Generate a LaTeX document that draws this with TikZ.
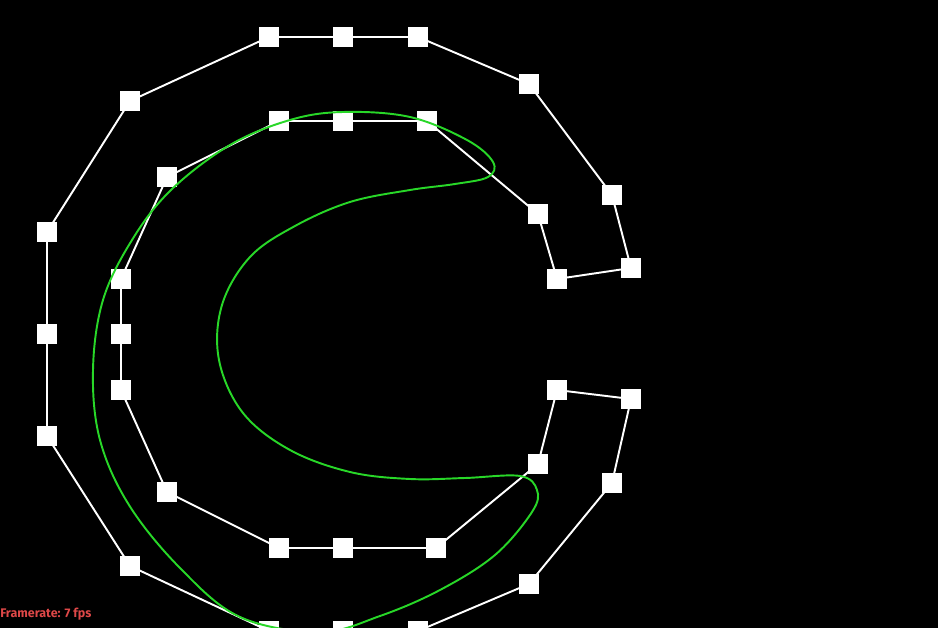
\documentclass[tikz,border=0pt]{standalone}
\usepackage{fontspec}
\newfontfamily\fpsfont{Fira Sans}
\definecolor{curvegreen}{RGB}{40,215,40}
\definecolor{fpsred}{RGB}{222,72,72}
\begin{document}
\begin{tikzpicture}[x=0.02cm,y=-0.02cm,
  ctrl/.style={rectangle,fill=white,draw=none,minimum size=0.4cm,inner sep=0pt},
  poly/.style={white,line width=1.1pt},
  spline/.style={curvegreen,line width=1.1pt}]
\fill[black] (0,0) rectangle (938,628);
\useasboundingbox (0,0) rectangle (938,628);
\begin{scope}
\clip (0,0) rectangle (938,628);
% control points
\coordinate (o3) at (269,37);
\coordinate (o4) at (130,101);
\coordinate (o5) at (47,232);
\coordinate (o6) at (47,334);
\coordinate (o7) at (47,436);
\coordinate (o8) at (130,566);
\coordinate (o9) at (269,631);
\coordinate (o10) at (343,631);
\coordinate (o11) at (418,631);
\coordinate (o12) at (529,584);
\coordinate (o13) at (612,483);
\coordinate (o14) at (631,399);
\coordinate (i1) at (557,390);
\coordinate (i2) at (538,464);
\coordinate (i3) at (436,548);
\coordinate (i4) at (343,548);
\coordinate (i5) at (279,548);
\coordinate (i6) at (167,492);
\coordinate (i7) at (121,390);
\coordinate (i8) at (121,334);
\coordinate (i9) at (121,279);
\coordinate (i10) at (167,177);
\coordinate (i11) at (279,121);
\coordinate (i12) at (343,121);
\coordinate (i13) at (427,121);
\coordinate (i14) at (538,214);
\coordinate (i15) at (557,279);
\coordinate (o15) at (631,268);
\coordinate (o16) at (612,195);
\coordinate (o17) at (529,84);
\coordinate (o18) at (418,37);
\coordinate (o19) at (343,37);
\draw[poly] (o3) -- (o4) -- (o5) -- (o6) -- (o7) -- (o8) -- (o9) -- (o10) -- (o11) -- (o12) -- (o13) -- (o14) -- (i1) -- (i2) -- (i3) -- (i4) -- (i5) -- (i6) -- (i7) -- (i8) -- (i9) -- (i10) -- (i11) -- (i12) -- (i13) -- (i14) -- (i15) -- (o15) -- (o16) -- (o17) -- (o18) -- (o19) -- cycle;
\foreach \p in {o3,o4,o5,o6,o7,o8,o9,o10,o11,o12,o13,o14,i1,i2,i3,i4,i5,i6,i7,i8,i9,i10,i11,i12,i13,i14,i15,o15,o16,o17,o18,o19}
  \node[ctrl] (n\p) at (\p) {};
\draw[spline] plot[smooth cycle, tension=0.6] coordinates {
 (343,112) (410,117) (467,140) (493,162) (488,177) (455,184) (410,190) (350,202)
 (295,226) (250,257) (222,305) (219,360) (243,413) (290,450) (350,472) (410,479)
 (465,478) (520,476) (537,490) (532,512) (495,555) (440,590) (380,616) (320,632)
 (240,617) (180,568) (129,505) (100,440) (93,370) (103,300) (132,240)
 (171,190) (230,145) (290,120)};
\end{scope}
\node[anchor=west,inner sep=0pt,text=fpsred,font=\fpsfont\bfseries\fontsize{7.1}{9}\selectfont] (fps) at (0,614) {Framerate: 7 fps};
\end{tikzpicture}
\end{document}
